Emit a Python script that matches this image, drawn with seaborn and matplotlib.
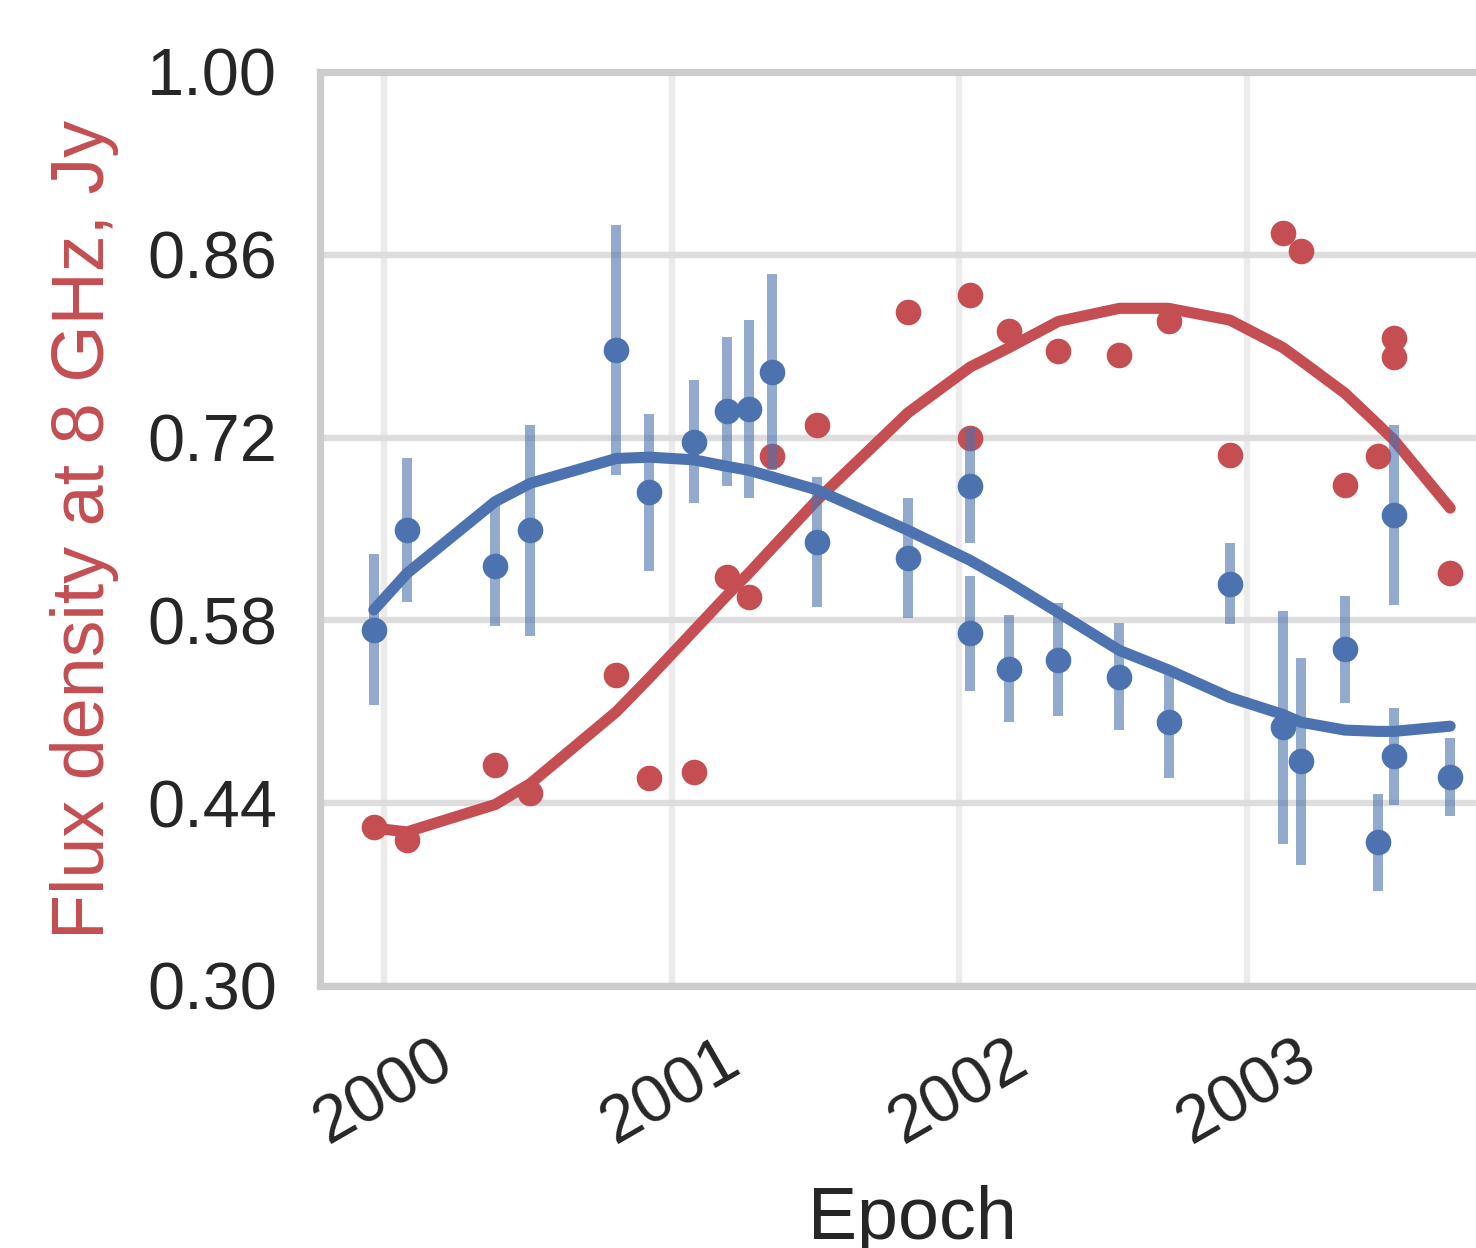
import numpy as np
import pandas as pd
import matplotlib
matplotlib.use("Agg")
import matplotlib.pyplot as plt
import seaborn as sns

sns.set_theme(context="poster", style="whitegrid", palette="deep")
plt.rcParams['font.family'] = ['Liberation Sans', 'DejaVu Sans']

blue = "#4C72B0"
red = "#C44E52"

# epochs of the observations (two epochs have two measurements)
epoch = [1999.965, 2000.080, 2000.387, 2000.509, 2000.808, 2000.923, 2001.077,
         2001.192, 2001.268, 2001.348, 2001.505, 2001.822, 2002.038, 2002.038,
         2002.174, 2002.345, 2002.557, 2002.728, 2002.941, 2003.125, 2003.188,
         2003.341, 2003.456, 2003.512, 2003.512, 2003.707]

# red series: flux density at 8 GHz and its model curve
flux8 = [0.422, 0.412, 0.469, 0.448, 0.538, 0.459, 0.464, 0.613, 0.598, 0.706,
         0.730, 0.816, 0.829, 0.720, 0.802, 0.786, 0.783, 0.809, 0.707, 0.877,
         0.863, 0.684, 0.706, 0.796, 0.782, 0.616]
model8 = [0.421, 0.418, 0.439, 0.455, 0.510, 0.536, 0.572, 0.599, 0.616, 0.635,
          0.672, 0.739, 0.774, 0.774, 0.789, 0.809, 0.819, 0.819, 0.810, 0.789,
          0.779, 0.754, 0.730, 0.718, 0.718, 0.666]

# blue series: measurements with errors and model curve
flux2 = [0.573, 0.649, 0.622, 0.649, 0.787, 0.678, 0.717, 0.740, 0.742, 0.770,
         0.640, 0.628, 0.683, 0.570, 0.543, 0.550, 0.537, 0.502, 0.608, 0.498,
         0.472, 0.558, 0.410, 0.661, 0.476, 0.460]
err2 = [0.058, 0.055, 0.046, 0.081, 0.096, 0.060, 0.047, 0.057, 0.068, 0.075,
        0.050, 0.046, 0.044, 0.044, 0.041, 0.043, 0.041, 0.043, 0.031, 0.089,
        0.079, 0.041, 0.037, 0.069, 0.037, 0.030]
model2 = [0.588, 0.616, 0.671, 0.685, 0.704, 0.705, 0.703, 0.698, 0.695, 0.690,
          0.680, 0.649, 0.626, 0.626, 0.609, 0.586, 0.557, 0.542, 0.521, 0.508,
          0.502, 0.496, 0.495, 0.495, 0.495, 0.499]

df = pd.DataFrame({'Epoch': epoch, 'flux8': flux8, 'model8': model8,
                   'flux2': flux2, 'err2': err2, 'model2': model2})

fig = plt.figure(figsize=(7.38, 6.24), dpi=200)
ax = fig.add_axes([320 / 1476, 262 / 1248, 1184 / 1476, 914 / 1248])

sns.scatterplot(data=df, x='Epoch', y='flux8', color=red, s=85, linewidth=0, ax=ax, zorder=3)
sns.lineplot(data=df, x='Epoch', y='model8', color=red, estimator=None, ax=ax, zorder=3)

ax.errorbar(df.Epoch, df.flux2, yerr=df.err2, fmt='none', ecolor=blue, alpha=0.6,
            elinewidth=3.6, capsize=0, zorder=4)
sns.scatterplot(data=df, x='Epoch', y='flux2', color=blue, s=85, linewidth=0, ax=ax, zorder=5)
sns.lineplot(data=df, x='Epoch', y='model2', color=blue, estimator=None, ax=ax, zorder=5)

# thick model curves
for ln in ax.lines:
    ln.set_linewidth(4.0)
    ln.set_solid_capstyle('round')

ax.set_ylim(0.30, 1.00)
ax.set_yticks(np.arange(0.30, 1.001, 0.14))
ax.yaxis.set_major_formatter(matplotlib.ticker.FormatStrFormatter('%.2f'))
ax.set_xticks([2000, 2001, 2002, 2003])
ax.set_xticklabels(['2000', '2001', '2002', '2003'], rotation=30, ha='center')
ax.tick_params(labelsize=24)
ax.xaxis.grid(True, color='#ebebeb', linewidth=2.3)
ax.yaxis.grid(True, color='#dddddd', linewidth=2.3)
for sp in ax.spines.values():
    sp.set_color('#cccccc')
    sp.set_linewidth(2.6)
ax.set_xlabel('Epoch', fontsize=26.5, labelpad=10)
ax.set_ylabel('Flux density at 8 GHz, Jy', color=red, fontsize=26.5, labelpad=10)

plt.savefig('out.png', dpi=200)
plt.close()
